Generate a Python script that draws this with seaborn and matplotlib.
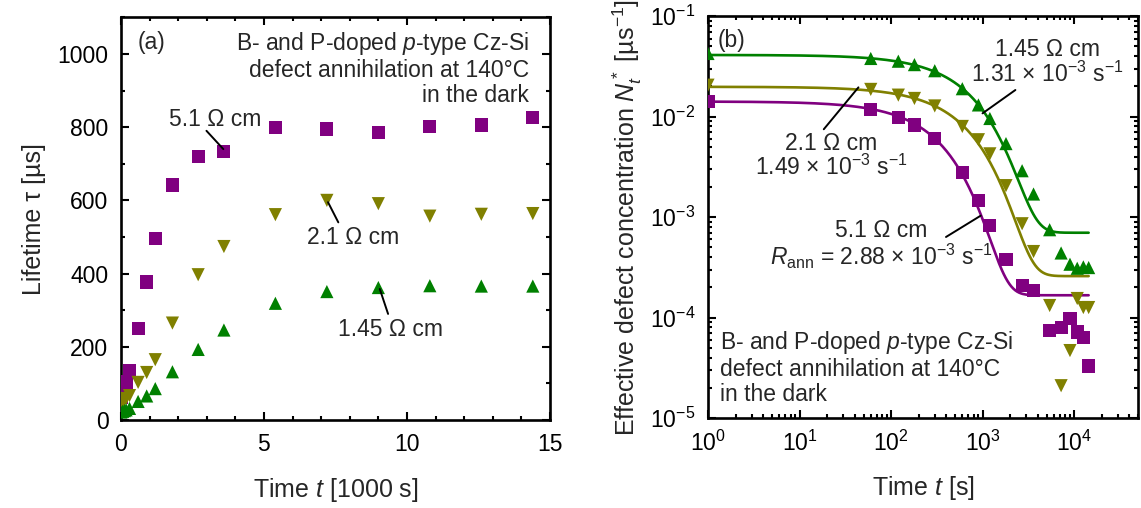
import numpy as np
import pandas as pd
import seaborn as sns
import matplotlib
matplotlib.use("Agg")
import matplotlib.pyplot as plt
from matplotlib.ticker import MultipleLocator, LogLocator, NullFormatter

# sample names (resistivity)
samples = ["5.1", "2.1", "1.45"]
colors = {"5.1": "#800080", "2.1": "#808000", "1.45": "#008000"}
markers = {"5.1": "s", "2.1": "v", "1.45": "^"}

# (a) lifetime vs time [1000 s]
t_kilo = [0, 0.06, 0.12, 0.18, 0.3, 0.6, 0.9, 1.2, 1.8, 2.7, 3.6, 5.4, 7.2, 9.0, 10.8, 12.6, 14.4]
tau_51 = [63, 76, 90, 104, 135, 250, 377, 497, 642, 720, 734, 800, 795, 785, 801, 806, 827]
tau_21 = [45, 49, 55, 59, 67, 103, 130, 165, 265, 397, 474, 561, 600, 591, 557, 562, 564]
tau_145 = [22, 24, 26, 28, 32, 51, 66, 86, 132, 193, 246, 319, 351, 362, 367, 366, 366]

# (b) effective defect concentration vs time [s]  (t=0 shown at 1 s)
t_sec = [1, 60, 120, 180, 300, 600, 900, 1200, 1800, 2700, 3600, 5400, 7200, 9000, 10800, 12600, 14400]
N_51 = [0.0143, 0.0119, 0.0098, 0.00828, 0.0061, 0.00279, 0.00147, 8.2e-4, 3.8e-4, 2.1e-4,
        1.86e-4, 7.5e-5, 7.9e-5, 9.8e-5, 7.2e-5, 6.4e-5, 3.3e-5]
N_21 = [0.0206, 0.0187, 0.0164, 0.0152, 0.0128, 0.0080, 0.0059, 0.00427, 0.00206, 8.6e-4,
        4.55e-4, 1.32e-4, 2.1e-5, 4.7e-5, 1.55e-4, 1.26e-4, 1.26e-4]
N_145 = [0.0426, 0.038, 0.0357, 0.033, 0.0287, 0.019, 0.0131, 0.0096, 0.0054, 0.0029,
         0.0017, 7.5e-4, 4.4e-4, 3.4e-4, 3.1e-4, 3.2e-4, 3.15e-4]

# exponential fit parameters: N(t) = A*exp(-R*t) + C
R_ann = {"5.1": 2.88e-3, "2.1": 1.49e-3, "1.45": 1.31e-3}
A_fit = {"5.1": 0.0140, "2.1": 0.0196, "1.45": 0.0405}
C_fit = {"5.1": 1.67e-4, "2.1": 2.59e-4, "1.45": 7.0e-4}

left = pd.DataFrame({
    "t": np.tile(t_kilo, 3),
    "tau": np.concatenate([tau_51, tau_21, tau_145]),
    "sample": np.repeat(samples, len(t_kilo)),
})
right = pd.DataFrame({
    "t": np.tile(t_sec, 3),
    "N": np.concatenate([N_51, N_21, N_145]),
    "sample": np.repeat(samples, len(t_sec)),
})
t_fit = np.logspace(0, np.log10(14400), 400)
fit = pd.concat([
    pd.DataFrame({"t": t_fit, "N": A_fit[s] * np.exp(-R_ann[s] * t_fit) + C_fit[s], "sample": s})
    for s in samples
])

sns.set_style("ticks")
plt.rcParams["font.family"] = ["Liberation Sans", "DejaVu Sans"]
plt.rcParams["mathtext.fontset"] = "custom"
plt.rcParams["mathtext.rm"] = "Liberation Sans"
plt.rcParams["mathtext.it"] = "Liberation Sans:italic"
plt.rcParams["mathtext.bf"] = "Liberation Sans:bold"

fig = plt.figure(figsize=(11.41, 5.08), dpi=100)
ax1 = fig.add_axes([0.106, 0.173, 0.376, 0.793])
ax2 = fig.add_axes([0.6205, 0.177, 0.377, 0.791])

lab_fs = 18
tick_fs = 16.5
txt_fs = 16.5
msize = 90

for ax in (ax1, ax2):
    for sp in ax.spines.values():
        sp.set_linewidth(1.9)
        sp.set_color("black")
    ax.tick_params(which="both", direction="in", top=True, right=True, width=1.5,
                   colors="black", labelsize=tick_fs)
    ax.tick_params(which="major", length=5.5)
    ax.tick_params(which="minor", length=3)
    ax.tick_params(axis="x", pad=9)
    ax.tick_params(axis="y", pad=9)

# panel (a)
sns.scatterplot(data=left, x="t", y="tau", hue="sample", style="sample", palette=colors,
                markers=markers, s=msize, linewidth=0, legend=False, ax=ax1, zorder=3)
ax1.set_xlim(0, 15)
ax1.set_ylim(0, 1100)
ax1.xaxis.set_major_locator(MultipleLocator(5))
ax1.xaxis.set_minor_locator(MultipleLocator(1))
ax1.yaxis.set_major_locator(MultipleLocator(200))
ax1.yaxis.set_minor_locator(MultipleLocator(100))
ax1.set_xlabel("Time $t$ [1000 s]", fontsize=lab_fs, labelpad=15)
ax1.set_ylabel("Lifetime τ [µs]", fontsize=lab_fs, labelpad=8)

ax1.text(0.04, 0.938, "(a)", transform=ax1.transAxes, fontsize=txt_fs, va="center")
ax1.text(14.26, 961, "B- and P-doped $p$-type Cz-Si\ndefect annihilation at 140°C\nin the dark",
         ha="right", va="center", multialignment="right", fontsize=txt_fs, linespacing=1.12)

line_kw = dict(arrowstyle="-", color="black", lw=1.4, shrinkA=0, shrinkB=0)
ax1.text(3.28, 820, "5.1 Ω cm", ha="center", va="center", fontsize=txt_fs)
ax1.annotate("", xy=(3.58, 740), xytext=(2.99, 790), arrowprops=line_kw)
ax1.text(8.13, 499, "2.1 Ω cm", ha="center", va="center", fontsize=txt_fs)
ax1.annotate("", xy=(7.6, 540), xytext=(7.24, 595), arrowprops=line_kw)
ax1.text(9.43, 247, "1.45 Ω cm", ha="center", va="center", fontsize=txt_fs)
ax1.annotate("", xy=(9.34, 290), xytext=(9.05, 358), arrowprops=line_kw)

# panel (b)
sns.lineplot(data=fit, x="t", y="N", hue="sample", palette=colors, estimator=None,
             lw=1.9, legend=False, ax=ax2, zorder=2)
sns.scatterplot(data=right, x="t", y="N", hue="sample", style="sample", palette=colors,
                markers=markers, s=msize, linewidth=0, legend=False, ax=ax2, zorder=3)
ax2.set_xscale("log")
ax2.set_yscale("log")
ax2.set_xlim(1, 5e4)
ax2.set_ylim(1e-5, 1e-1)
for axis in (ax2.xaxis, ax2.yaxis):
    axis.set_major_locator(LogLocator(base=10, numticks=10))
    axis.set_minor_locator(LogLocator(base=10, subs=np.arange(2, 10), numticks=20))
    axis.set_minor_formatter(NullFormatter())
ax2.set_xlabel("Time $t$ [s]", fontsize=lab_fs, labelpad=13)
ax2.set_ylabel("Effective defect concentration $N_t^*$ [µs$^{-1}$]", fontsize=lab_fs, labelpad=4)

ax2.text(0.023, 0.94, "(b)", transform=ax2.transAxes, fontsize=txt_fs, va="center")
ax2.text(1.34, 3.18e-5, "B- and P-doped $p$-type Cz-Si\ndefect annihilation at 140°C\nin the dark",
         ha="left", va="center", fontsize=txt_fs, linespacing=1.12)

ax2.text(5070, 0.0348, "1.45 Ω cm\n1.31 × 10$^{-3}$ s$^{-1}$", ha="center", va="center",
         multialignment="center", fontsize=txt_fs, linespacing=1.0)
ax2.annotate("", xy=(998, 0.0108), xytext=(2280, 0.01845), arrowprops=line_kw)
ax2.text(22, 4.09e-3, "2.1 Ω cm\n1.49 × 10$^{-3}$ s$^{-1}$", ha="center", va="center",
         multialignment="center", fontsize=txt_fs, linespacing=1.0)
ax2.annotate("", xy=(44, 0.0196), xytext=(18.4, 7.5e-3), arrowprops=line_kw)
ax2.text(78.4, 5.28e-4, "5.1 Ω cm\n$R_\\mathrm{ann}$ = 2.88 × 10$^{-3}$ s$^{-1}$", ha="center",
         va="center", multialignment="center", fontsize=txt_fs, linespacing=1.0)
ax2.annotate("", xy=(953, 1.035e-3), xytext=(398, 6.35e-4), arrowprops=line_kw)

fig.savefig("out.png", dpi=100)
